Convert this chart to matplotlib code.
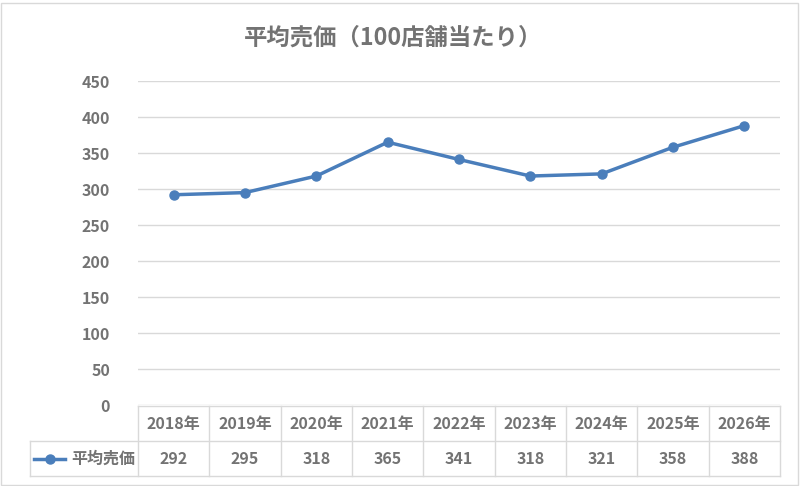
import matplotlib.pyplot as plt
import matplotlib.transforms as mtransforms
from matplotlib.patches import Rectangle
from matplotlib.lines import Line2D

plt.rcParams['font.family'] = ['Noto Sans CJK JP', 'DejaVu Sans']

# data
years = ["2018年", "2019年", "2020年", "2021年", "2022年", "2023年", "2024年", "2025年", "2026年"]
prices = [292, 295, 318, 365, 341, 318, 321, 358, 388]
series_name = "平均売価"
title = "平均売価（100店舗当たり）"

text_col = "#737373"
line_col = "#4A7EBB"
grid_col = "#D9D9D9"

W, H = 800, 486
fig = plt.figure(figsize=(8, 4.86), dpi=100)

# plot area in pixel terms
left, right, top, bottom = 138, 780, 81, 405
ax = fig.add_axes([left / W, 1 - bottom / H, (right - left) / W, (bottom - top) / H])

x = list(range(len(years)))
ax.plot(x, prices, color=line_col, lw=2.5, marker="o", ms=6.5, zorder=3, clip_on=False)
ax.set_xlim(-0.5, len(years) - 0.5)
ax.set_ylim(0, 450)
ax.set_yticks(range(0, 451, 50))
ax.yaxis.grid(True, color=grid_col, lw=1)
ax.set_axisbelow(True)
ax.set_xticks([])
for s in ax.spines.values():
    s.set_visible(False)
ax.tick_params(axis="y", length=0, pad=20, labelsize=11.5, labelcolor=text_col)
for lab in ax.get_yticklabels():
    lab.set_fontweight("bold")

fig.text(393 / W, 1 - 38 / H, title, ha="center", va="center",
         fontsize=16.8, fontweight="bold", color=text_col)

# data table under the axis
tr = mtransforms.blended_transform_factory(ax.transData, fig.transFigure)
y_top = 1 - 406 / H
y_mid = 1 - 441 / H
y_bot = 1 - 476 / H
n = len(years)
xmax = n - 0.5

line_kw = dict(color=grid_col, lw=1, transform=tr, clip_on=False)
fig.add_artist(Line2D([-0.5, xmax], [y_top, y_top], **line_kw))
for i in range(n + 1):
    fig.add_artist(Line2D([i - 0.5, i - 0.5], [y_bot, y_top], **line_kw))

# rows spanning the legend cell too
leg_left = 30 / W
fig.add_artist(Line2D([leg_left, right / W], [y_mid, y_mid], color=grid_col, lw=1, transform=fig.transFigure))
fig.add_artist(Line2D([leg_left, right / W], [y_bot, y_bot], color=grid_col, lw=1, transform=fig.transFigure))
fig.add_artist(Line2D([leg_left, leg_left], [y_bot, y_mid], color=grid_col, lw=1, transform=fig.transFigure))

for i, (yr, v) in enumerate(zip(years, prices)):
    fig.text(i, (y_top + y_mid) / 2, yr, transform=tr, ha="center", va="center",
             fontsize=11.5, fontweight="bold", color=text_col)
    fig.text(i, (y_mid + y_bot) / 2, str(v), transform=tr, ha="center", va="center",
             fontsize=11.5, fontweight="bold", color=text_col)

# legend key
y_row = (y_mid + y_bot) / 2
fig.add_artist(Line2D([34 / W, 65 / W], [y_row, y_row], color=line_col, lw=2.5,
                      transform=fig.transFigure))
fig.add_artist(Line2D([50 / W], [y_row], color=line_col, marker="o", ms=6.5,
                      transform=fig.transFigure))
fig.text(71 / W, y_row, series_name, ha="left", va="center",
         fontsize=11.5, fontweight="bold", color=text_col)

# outer border
fig.add_artist(Rectangle((1 / W, 1 / H), 1 - 3 / W, 1 - 4 / H, transform=fig.transFigure,
                         fill=False, edgecolor=grid_col, lw=1))

fig.savefig("out.png", dpi=100)
